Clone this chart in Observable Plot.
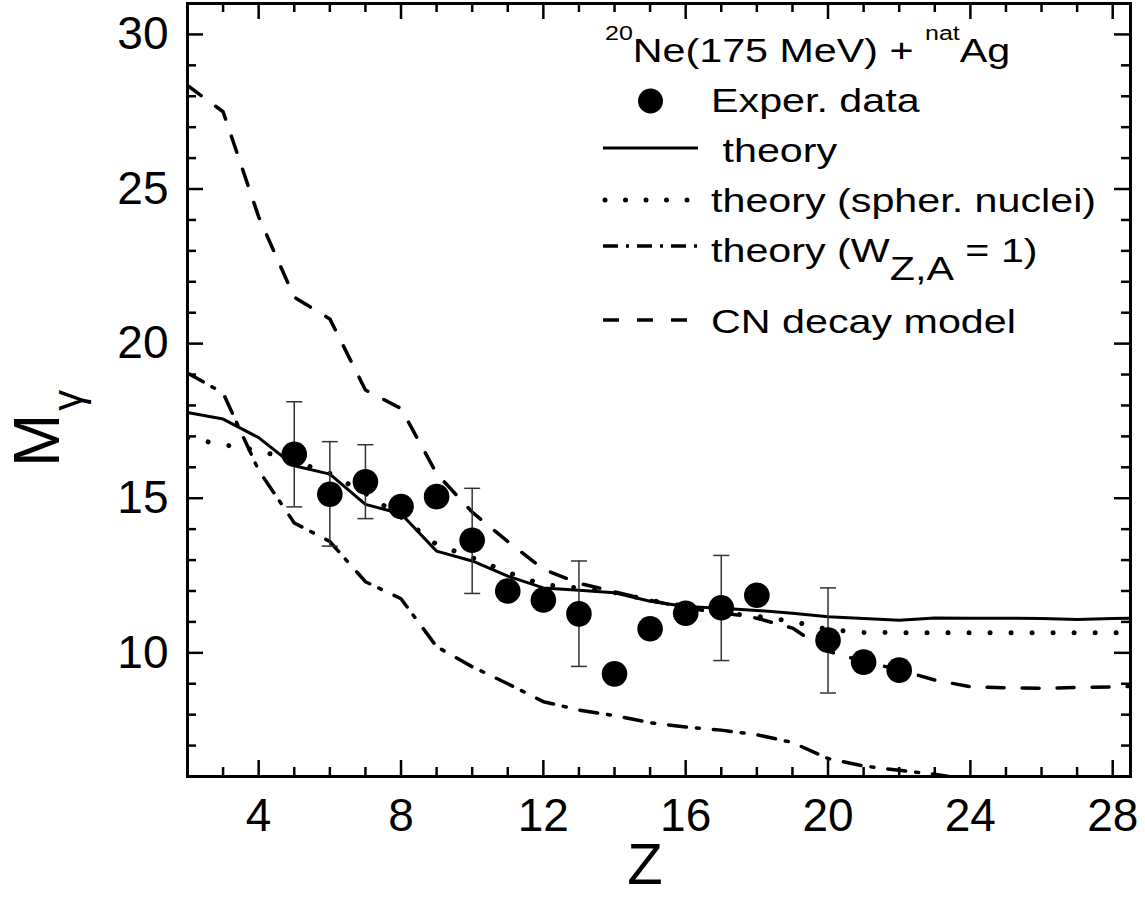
<!DOCTYPE html>
<html>
<head>
<meta charset="utf-8">
<script src="https://cdn.jsdelivr.net/npm/d3@7"></script>
<script src="https://cdn.jsdelivr.net/npm/@observablehq/plot@0.6"></script>
<style>
  html, body { margin: 0; padding: 0; background: white; }
  #chart { width: 1145px; height: 897px; }
</style>
</head>
<body>
<div id="chart"></div>
<script>
// ---------- data ----------
const expZ = [5, 6, 7, 8, 9, 10, 11, 12, 13, 14, 15, 16, 17, 18, 20, 21, 22];
const expM = [16.42, 15.13, 15.53, 14.73, 15.05, 13.64, 12.0, 11.71, 11.26, 9.32, 10.78, 11.28, 11.46, 11.86, 10.41, 9.70, 9.44];

const errZ  = [5, 6, 7, 10, 13, 17, 20];
const errLo = [14.72, 13.45, 14.34, 11.92, 9.56, 9.75, 8.70];
const errHi = [18.12, 16.83, 16.73, 15.32, 12.97, 13.15, 12.10];

const thZ = [2, 3, 4, 5, 6, 7, 8, 9, 10, 11, 12, 13, 14, 15, 16, 17, 18, 19, 20, 21, 22, 23, 24, 25, 26, 27, 28, 29];
const theory      = [17.77, 17.56, 16.96, 16.05, 15.78, 14.8, 14.5, 13.29, 12.97, 12.48, 12.1, 12.02, 11.94, 11.67, 11.5, 11.44, 11.37, 11.28, 11.17, 11.11, 11.05, 11.13, 11.12, 11.12, 11.11, 11.08, 11.11, 11.12];
const theorySpher = [16.95, 16.73, 16.55, 16.2, 15.8, 15.15, 14.4, 13.5, 13.08, 12.6, 12.2, 12.1, 11.95, 11.7, 11.5, 11.3, 11.18, 11.02, 10.75, 10.66, 10.65, 10.65, 10.65, 10.65, 10.65, 10.65, 10.65, 10.65];
const dwZ = [2, 3, 4, 5, 6, 7, 8, 9, 10, 11, 12, 13, 14, 15, 16, 17, 18, 19, 20, 21, 22, 23, 24];
const theoryW1    = [19.05, 18.4, 15.9, 14.2, 13.6, 12.3, 11.75, 10.2, 9.55, 9.0, 8.42, 8.15, 7.97, 7.74, 7.6, 7.5, 7.35, 7.1, 6.58, 6.34, 6.2, 6.07, 5.9];
const cnDecay     = [28.35, 27.5, 24.1, 21.5, 20.8, 18.5, 17.9, 15.8, 14.55, 13.6, 12.7, 12.25, 11.97, 11.7, 11.45, 11.3, 11.12, 10.8, 10.05, 9.72, 9.45, 9.12, 8.9, 8.87, 8.85, 8.88, 8.9, 8.93];

const xMajor = [4, 8, 12, 16, 20, 24, 28];
const xMinor = [3, 5, 6, 7, 9, 10, 11, 13, 14, 15, 17, 18, 19, 21, 22, 23, 25, 26, 27];
const yMajor = [10, 15, 20, 25, 30];
const yMinor = [7, 8, 9, 11, 12, 13, 14, 16, 17, 18, 19, 21, 22, 23, 24, 26, 27, 28, 29];

const legendTitle = ["20", "Ne(175 MeV) + ", "nat", "Ag"];
const legendLabels = ["Exper. data", "theory", "theory (spher. nuclei)", "theory (W", "Z,A", " = 1)", "CN decay model"];
const xTitle = "Z";
const yTitle = ["M", "γ"];

// ---------- tables ----------
const exp = expZ.map((z, i) => ({z, m: expM[i]}));
const errs = errZ.map((z, i) => ({z, lo: errLo[i], hi: errHi[i]}));
const th = thZ.map((z, i) => ({z, a: theory[i], s: theorySpher[i], c: cnDecay[i]}));
const thw = dwZ.map((z, i) => ({z, w: theoryW1[i]}));

// ---------- layout ----------
const W = 1145, H = 897;
const mL = 187, mR = 15, mT = 3, mB = 121;
const FW = W - mL - mR, FH = H - mT - mB;
const FONT = "'Liberation Sans', Arial, Helvetica, sans-serif";
const capSymbol = {draw(ctx) { ctx.moveTo(-8, 0); ctx.lineTo(8, 0); }};

const plot = Plot.plot({
  width: W, height: H,
  marginLeft: mL, marginRight: mR, marginTop: mT, marginBottom: mB,
  x: {domain: [2, 28.5]},
  y: {domain: [6, 31]},
  style: {fontFamily: FONT, background: "white", color: "black"},
  marks: [
    Plot.axisX({ticks: xMajor, tickSize: 0, tickPadding: 22, fontSize: 46, label: null}),
    Plot.axisY({ticks: yMajor, tickSize: 0, tickPadding: 19, fontSize: 46, label: null}),
    // inward ticks, all four sides
    Plot.tickX(xMajor, {x: d => d, insetTop: FH - 16, strokeWidth: 2.5}),
    Plot.tickX(xMinor, {x: d => d, insetTop: FH - 9, strokeWidth: 2.5}),
    Plot.tickX(xMajor, {x: d => d, insetBottom: FH - 16, strokeWidth: 2.5}),
    Plot.tickX(xMinor, {x: d => d, insetBottom: FH - 9, strokeWidth: 2.5}),
    Plot.tickY(yMajor, {y: d => d, insetRight: FW - 16, strokeWidth: 2.5}),
    Plot.tickY(yMinor, {y: d => d, insetRight: FW - 9, strokeWidth: 2.5}),
    Plot.tickY(yMajor, {y: d => d, insetLeft: FW - 16, strokeWidth: 2.5}),
    Plot.tickY(yMinor, {y: d => d, insetLeft: FW - 9, strokeWidth: 2.5}),
    // curves
    Plot.line(th, {x: "z", y: "c", stroke: "black", strokeWidth: 3.5, strokeDasharray: "17,18", clip: true}),
    Plot.line(thw, {x: "z", y: "w", stroke: "black", strokeWidth: 3.5, strokeDasharray: "18,10,3,14", clip: true}),
    Plot.line(th, {x: "z", y: "s", stroke: "black", strokeWidth: 5, strokeDasharray: "0.01,21", strokeLinecap: "round", clip: true}),
    Plot.line(th, {x: "z", y: "a", stroke: "black", strokeWidth: 3, clip: true}),
    // error bars
    Plot.ruleX(errs, {x: "z", y1: "lo", y2: "hi", stroke: "#333", strokeWidth: 1.5}),
    Plot.dot(errs, {x: "z", y: "lo", symbol: capSymbol, stroke: "#333", strokeWidth: 1.5, fill: "none"}),
    Plot.dot(errs, {x: "z", y: "hi", symbol: capSymbol, stroke: "#333", strokeWidth: 1.5, fill: "none"}),
    // experimental points
    Plot.dot(exp, {x: "z", y: "m", r: 12.8, fill: "black", stroke: "none"}),
    Plot.frame({stroke: "black", strokeWidth: 3})
  ]
});
document.getElementById("chart").appendChild(plot);

// ---------- titles and legend ----------
const svg = d3.select(plot);
svg.append("text").attr("x", 645).attr("y", 884).attr("text-anchor", "middle")
  .attr("font-family", FONT).attr("font-size", 58).attr("fill", "black").text(xTitle);
const yt = svg.append("text").attr("transform", "translate(59,467) rotate(-90)")
  .attr("text-anchor", "start")
  .attr("font-family", FONT).attr("font-size", 64).attr("fill", "black");
yt.append("tspan").text(yTitle[0]);
yt.append("tspan").attr("font-size", 42).attr("dy", 23).attr("dx", 3).text(yTitle[1]);

const leg = svg.append("g").attr("font-family", FONT).attr("fill", "black").attr("text-anchor", "start");
function row(x, y) {
  return leg.append("g").attr("transform", `translate(${x},${y}) scale(1.25,1)`)
    .append("text").attr("text-anchor", "start").attr("font-size", 33);
}
const t0 = row(605, 62);
t0.append("tspan").attr("font-size", 20).attr("dy", -22).text(legendTitle[0]);
t0.append("tspan").attr("dy", 22).text(legendTitle[1]);
t0.append("tspan").attr("font-size", 20).attr("dy", -22).text(legendTitle[2]);
t0.append("tspan").attr("dy", 22).text(legendTitle[3]);
row(711, 112).text(legendLabels[0]);
row(722.5, 162).text(legendLabels[1]);
row(711, 212).text(legendLabels[2]);
const t4 = row(711, 262);
t4.append("tspan").text(legendLabels[3]);
t4.append("tspan").attr("dy", 18).text(legendLabels[4]);
t4.append("tspan").attr("dy", -18).text(legendLabels[5]);
row(711, 333).text(legendLabels[6]);

// legend samples
leg.append("circle").attr("cx", 650.5).attr("cy", 101).attr("r", 12.5).attr("fill", "black");
leg.append("line").attr("x1", 603).attr("x2", 698).attr("y1", 148).attr("y2", 148)
  .attr("stroke", "black").attr("stroke-width", 3);
leg.append("line").attr("x1", 605).attr("x2", 698).attr("y1", 200).attr("y2", 200)
  .attr("stroke", "black").attr("stroke-width", 5).attr("stroke-dasharray", "0.01,20.5").attr("stroke-linecap", "round");
leg.append("line").attr("x1", 603).attr("x2", 698).attr("y1", 246).attr("y2", 246)
  .attr("stroke", "black").attr("stroke-width", 3.5).attr("stroke-dasharray", "15,8,3,8");
leg.append("line").attr("x1", 603).attr("x2", 698).attr("y1", 320).attr("y2", 320)
  .attr("stroke", "black").attr("stroke-width", 3.5).attr("stroke-dasharray", "16,18");
</script>
</body>
</html>
